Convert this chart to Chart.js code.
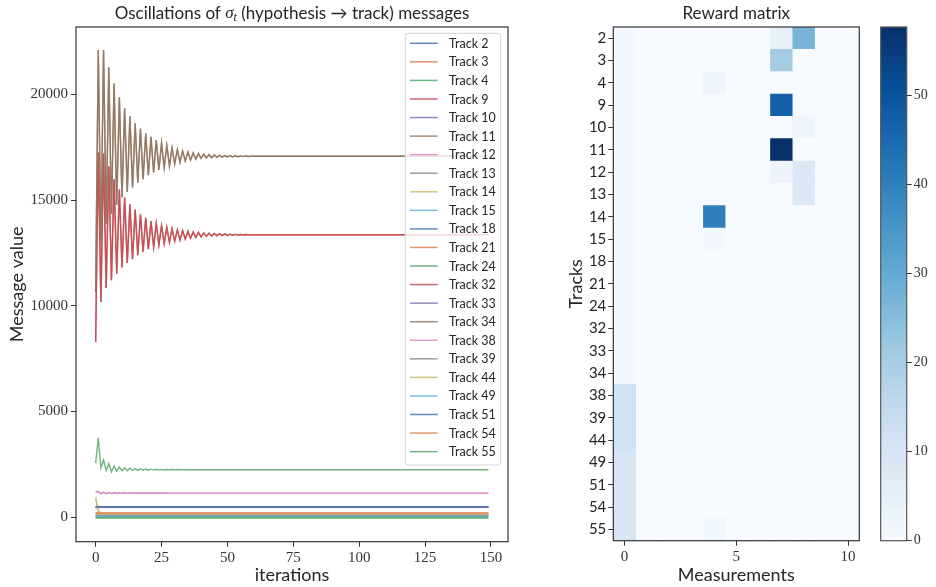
<!DOCTYPE html>
<html>
<head>
<meta charset="utf-8">
<script src="https://cdn.jsdelivr.net/npm/chart.js@4"></script>
<style>
  html, body { margin: 0; padding: 0; background: #fff; }
  body { width: 936px; height: 587px; position: relative; overflow: hidden; }
  canvas { position: absolute; top: 0; }
  #lines { left: 0; }
  #matrix { left: 555px; }
  #cbar { left: 870px; }
</style>
</head>
<body>
<canvas id="lines" width="520" height="587"></canvas>
<canvas id="matrix" width="315" height="587"></canvas>
<canvas id="cbar" width="66" height="587"></canvas>
<script>
// ---- Oscillation data ----
const iterLong = [0,1,2,3,4,5,6,7,8,9,10,11,12,13,14,15,16,17,18,19,20,21,22,23,24,25,26,27,28,29,
  30,31,32,33,34,35,36,37,38,39,40,41,42,43,44,45,46,47,48,49,50,51,52,53,54,55,56,57,58,59,60,149];
const iterMid = [0,1,2,3,4,5,6,7,8,9,10,11,12,13,14,15,16,17,18,19,20,21,22,23,24,25,26,27,28,29,30,149];
const iterShort = [0,1,2,3,4,149];

const track9 = [8290,17250,10180,17200,10840,16600,11210,15990,11520,15500,
  11810,15120,12030,14800,12200,14560,12390,14330,12550,14160,
  12680,14010,12780,13890,12870,13790,12950,13710,13010,13640,
  13060,13590,13110,13550,13160,13520,13200,13490,13230,13470,
  13260,13450,13280,13430,13300,13420,13310,13410,13320,13400,
  13330,13390,13340,13380,13345,13375,13350,13370,13355,13365,
  13360,13360];
const track32 = track9;
const track11 = [10650,22100,13050,22100,13880,21280,14350,20520,14780,19860,
  15120,19340,15380,18970,15600,18630,15820,18390,15990,18150,
  16180,17990,16310,17840,16430,17700,16540,17590,16620,17470,
  16720,17380,16790,17320,16850,17270,16900,17230,16940,17200,
  16970,17170,16995,17150,17010,17135,17025,17120,17035,17110,
  17045,17100,17050,17095,17055,17090,17060,17085,17065,17080,
  17072,17072];
const track34 = track11;
const track4 = [2560,3760,2340,2720,2210,2530,2140,2420,2180,2370,
  2190,2340,2200,2320,2210,2300,2215,2290,2220,2280,
  2225,2272,2228,2266,2232,2262,2235,2258,2238,2255,
  2240,2253,2241,2251,2242,2250,2243,2249,2244,2248,
  2245,2247,2245,2247,2246,2246,2246,2246,2246,2246,
  2246,2246,2246,2246,2246,2246,2246,2246,2246,2246,
  2246,2246];
const track12 = [1200,1215,1110,1180,1115,1172,1118,1165,1122,1160,
  1125,1156,1128,1152,1130,1149,1132,1147,1133,1145,
  1134,1143,1135,1142,1136,1141,1137,1140,1138,1139,
  1138,1138];
const track38 = track12;
const track2 = [480,470,475,475,475,475];
const track3 = [180,230,190,190,190,190];
const track10 = [490,480,485,485,485,485];
const track13 = [70,70,70,70,70,70];
const track14 = [950,260,180,160,150,150];
const track15 = [40,50,45,45,45,45];
const track18 = [440,460,465,465,465,465];
const track21 = [150,160,160,160,160,160];
const track24 = [-20,-20,-20,-20,-20,-20];
const track33 = [470,480,478,478,478,478];
const track39 = [90,90,90,90,90,90];
const track44 = [880,300,200,170,165,165];
const track49 = [30,30,30,30,30,30];
const track51 = [500,505,500,500,500,500];
const track54 = [200,200,200,200,200,200];
const track55 = [-40,-40,-40,-40,-40,-40];

const xTicks = [0,25,50,75,100,125,150];
const yTicks = [0,5000,10000,15000,20000];

// ---- Reward matrix ----
const trackLabels = ['2','3','4','9','10','11','12','13','14','15','18','21','24','32','33','34','38','39','44','49','51','54','55'];
const measurementTicks = [0,5,10];
const reward = [
  [1.2,0,0,0,0,0,0,4.5,27,0,0],
  [1.2,0,0,0,0,0,0,20.5,0,0,0],
  [1.2,0,0,0,2.5,0,0,0.6,0,0,0],
  [1.2,0,0,0,0,0,0,47,0,0,0],
  [1.2,0,0,0,0,0,0,0,2.5,0,0],
  [1.2,0,0,0,0,0,0,57.7,0,0,0],
  [1.2,0,0,0,0,0,0,3,8,0,0],
  [1.2,0,0,0,0,0,0,0,8,0,0],
  [1.2,0,0,0,40,0,0,0,0,0,0],
  [1.2,0,0,0,1.5,0,0,0,0,0,0],
  [1.2,0,0,0,0,0,0,0,0,0,0],
  [1.2,0,0,0,0,0,0,0,0,0,0],
  [1.2,0,0,0,0,0,0,0,0,0,0],
  [1.2,0,0,0,0,0,0,0,0,0,0],
  [1.2,0,0,0,0,0,0,0,0,0,0],
  [1.2,0,0,0,0,0,0,0,0,0,0],
  [11,0,0,0,0,0,0,0,0,0,0],
  [11,0,0,0,0,0,0,0,0,0,0],
  [11,0,0,0,0,0,0,0,0,0,0],
  [9.5,0,0,0,0,0,0,0,0,0,0],
  [9.5,0,0,0,0,0,0,0,0,0,0],
  [9.5,0,0,0,0,0,0,0,0,0,0],
  [9.5,0,0,0,2,0,0,0,0,0,0]
];
const rewardMax = 57.7;
const cbarTicks = [0,10,20,30,40,50];

// ---- styling helpers ----
const deep = ['#4C72B0','#DD8452','#55A868','#C44E52','#8172B3','#937860','#DA8BC3','#8C8C8C','#CCB974','#64B5CD'];
const bluesStops = ['#f7fbff','#deebf7','#c6dbef','#9ecae1','#6baed6','#4292c6','#2171b5','#08519c','#08306b'];
const sans = 'Lato, "DejaVu Sans", sans-serif';
const serif = '"Liberation Serif", "DejaVu Serif", serif';
const ink = '#262626';

function hexToRgb(h) {
  return [parseInt(h.slice(1, 3), 16), parseInt(h.slice(3, 5), 16), parseInt(h.slice(5, 7), 16)];
}
function rgba(h, a) {
  const [r, g, b] = hexToRgb(h);
  return `rgba(${r},${g},${b},${a})`;
}
function blues(v) {
  const t = Math.max(0, Math.min(1, v / rewardMax)) * 8;
  const i = Math.min(7, Math.floor(t));
  const f = t - i;
  const a = hexToRgb(bluesStops[i]), b = hexToRgb(bluesStops[i + 1]);
  const c = a.map((x, k) => Math.round(x + (b[k] - x) * f));
  return `rgb(${c[0]},${c[1]},${c[2]})`;
}
function zip(xs, ys) {
  return xs.map((x, i) => ({ x: x, y: ys[i] }));
}
function fixedTicks(values) {
  return scale => { scale.ticks = values.map(v => ({ value: v })); };
}
const plainLabel = v => String(v);

// frame + title (+ optional legend) drawn on top of each chart
const decor = {
  id: 'decor',
  afterDraw(chart, args, opts) {
    const { ctx, chartArea: a } = chart;
    ctx.save();
    ctx.strokeStyle = opts.frameColor || '#333';
    ctx.lineWidth = 1.2;
    ctx.strokeRect(a.left, a.top, a.right - a.left, a.bottom - a.top);

    if (opts.legend) {
      const items = chart.data.datasets;
      const bx = a.right - 102.7, by = a.top + 6.3, bw = 95.4, bh = 431.7;
      ctx.fillStyle = 'rgba(255,255,255,0.8)';
      ctx.strokeStyle = '#d4d4d4';
      ctx.lineWidth = 1;
      ctx.beginPath();
      ctx.roundRect(bx, by, bw, bh, 3);
      ctx.fill();
      ctx.stroke();
      ctx.font = `12.5px ${sans}`;
      ctx.textBaseline = 'middle';
      items.forEach((d, i) => {
        const y = by + 10 + i * 18.56;
        ctx.strokeStyle = d.borderColor;
        ctx.lineWidth = 1.5;
        ctx.beginPath();
        ctx.moveTo(bx + 4.7, y);
        ctx.lineTo(bx + 32.4, y);
        ctx.stroke();
        ctx.fillStyle = ink;
        ctx.fillText(d.label, bx + 43.7, y + 0.5);
      });
    }

    if (opts.title) {
      ctx.textBaseline = 'middle';
      ctx.fillStyle = ink;
      let w = 0;
      opts.title.forEach(s => { ctx.font = s.font; w += ctx.measureText(s.text).width; });
      let x = (a.left + a.right) / 2 - w / 2;
      opts.title.forEach(s => {
        ctx.font = s.font;
        ctx.fillText(s.text, x, a.top - 13 + (s.dy || 0));
        x += ctx.measureText(s.text).width;
      });
    }
    ctx.restore();
  }
};

const tickFont = { family: serif, size: 15 };
const tickGrid = { drawOnChartArea: false, drawTicks: true, tickLength: 5, color: '#333', tickWidth: 1 };

// ---- left: oscillation line chart ----
const series = [
  ['Track 2', iterShort, track2], ['Track 3', iterShort, track3], ['Track 4', iterLong, track4],
  ['Track 9', iterLong, track9], ['Track 10', iterShort, track10], ['Track 11', iterLong, track11],
  ['Track 12', iterMid, track12], ['Track 13', iterShort, track13], ['Track 14', iterShort, track14],
  ['Track 15', iterShort, track15], ['Track 18', iterShort, track18], ['Track 21', iterShort, track21],
  ['Track 24', iterShort, track24], ['Track 32', iterLong, track32], ['Track 33', iterShort, track33],
  ['Track 34', iterLong, track34], ['Track 38', iterMid, track38], ['Track 39', iterShort, track39],
  ['Track 44', iterShort, track44], ['Track 49', iterShort, track49], ['Track 51', iterShort, track51],
  ['Track 54', iterShort, track54], ['Track 55', iterShort, track55]
];

new Chart(document.getElementById('lines'), {
  type: 'line',
  data: {
    datasets: series.map(([label, xs, ys], i) => ({
      label: label,
      data: zip(xs, ys),
      borderColor: rgba(deep[i % 10], 0.85),
      borderWidth: 1.4,
      pointRadius: 0,
      tension: 0,
      fill: false,
      order: -i
    }))
  },
  options: {
    responsive: false,
    animation: false,
    layout: { padding: { top: 27, right: 12, left: 0, bottom: 0 } },
    plugins: {
      legend: { display: false },
      tooltip: { enabled: false },
      decor: {
        legend: true,
        title: [
          { text: 'Oscillations of ', font: `17px ${sans}` },
          { text: 'σ', font: `italic 17px ${serif}` },
          { text: 't', font: `italic 12px ${serif}`, dy: 4 },
          { text: ' (hypothesis → track) messages', font: `17px ${sans}` }
        ]
      }
    },
    scales: {
      x: {
        type: 'linear',
        min: -7.45,
        max: 156.45,
        afterBuildTicks: fixedTicks(xTicks),
        afterFit: s => { s.height = 45.3; },
        grid: tickGrid,
        border: { display: false },
        ticks: { font: tickFont, color: '#333', padding: 2, maxRotation: 0, callback: plainLabel },
        title: { display: true, text: 'iterations', font: { family: sans, size: 18 }, color: ink, padding: { top: 0, bottom: 1 } }
      },
      y: {
        type: 'linear',
        min: -1160,
        max: 23190,
        afterBuildTicks: fixedTicks(yTicks),
        afterFit: s => { s.width = 76; },
        grid: tickGrid,
        border: { display: false },
        ticks: { font: tickFont, color: '#333', padding: 3, callback: plainLabel },
        title: { display: true, text: 'Message value', font: { family: sans, size: 18 }, color: ink, padding: { top: 6, bottom: 0 } }
      }
    }
  },
  plugins: [decor]
});

// ---- right: reward matrix heatmap ----
new Chart(document.getElementById('matrix'), {
  type: 'bar',
  data: {
    labels: trackLabels,
    datasets: reward[0].map((_, c) => ({
      label: 'col ' + c,
      data: trackLabels.map(() => [c - 0.5, c + 0.5]),
      backgroundColor: trackLabels.map((t, r) => blues(reward[r][c])),
      borderWidth: 0,
      grouped: false,
      barPercentage: 1,
      categoryPercentage: 1
    }))
  },
  options: {
    indexAxis: 'y',
    responsive: false,
    animation: false,
    layout: { padding: { top: 27, right: 10.7, left: 0, bottom: 0 } },
    plugins: {
      legend: { display: false },
      tooltip: { enabled: false },
      decor: { title: [{ text: 'Reward matrix', font: `17px ${sans}` }] }
    },
    scales: {
      x: {
        type: 'linear',
        min: -0.5,
        max: 10.5,
        afterBuildTicks: fixedTicks(measurementTicks),
        afterFit: s => { s.height = 46.3; },
        grid: tickGrid,
        border: { display: false },
        ticks: { font: tickFont, color: '#333', padding: 2, maxRotation: 0, callback: plainLabel },
        title: { display: true, text: 'Measurements', font: { family: sans, size: 18 }, color: ink, padding: { top: 0, bottom: 1 } }
      },
      y: {
        type: 'category',
        offset: true,
        afterFit: s => { s.width = 58.3; },
        grid: Object.assign({}, tickGrid, { offset: false }),
        border: { display: false },
        ticks: { font: { family: sans, size: 15 }, color: ink, padding: 2, autoSkip: false },
        title: { display: true, text: 'Tracks', font: { family: sans, size: 18 }, color: ink, padding: { top: 10, bottom: 0 } }
      }
    }
  },
  plugins: [decor]
});

// ---- colour bar ----
new Chart(document.getElementById('cbar'), {
  type: 'bar',
  data: {
    labels: ['reward'],
    datasets: [{
      data: [[0, rewardMax]],
      backgroundColor: ctx => {
        const area = ctx.chart.chartArea;
        if (!area) return bluesStops[0];
        const g = ctx.chart.ctx.createLinearGradient(0, area.bottom, 0, area.top);
        bluesStops.forEach((c, k) => g.addColorStop(k / 8, c));
        return g;
      },
      borderWidth: 0,
      barPercentage: 1,
      categoryPercentage: 1
    }]
  },
  options: {
    responsive: false,
    animation: false,
    layout: { padding: { top: 27, right: 0, left: 10.7, bottom: 46.3 } },
    plugins: {
      legend: { display: false },
      tooltip: { enabled: false },
      decor: { frameColor: '#555' }
    },
    scales: {
      x: { display: false },
      y: {
        position: 'right',
        min: 0,
        max: rewardMax,
        afterBuildTicks: fixedTicks(cbarTicks),
        afterFit: s => { s.width = 29.3; },
        grid: tickGrid,
        border: { display: false },
        ticks: { font: { family: serif, size: 14 }, color: '#333', padding: 2, callback: plainLabel }
      }
    }
  },
  plugins: [decor]
});
</script>
</body>
</html>
